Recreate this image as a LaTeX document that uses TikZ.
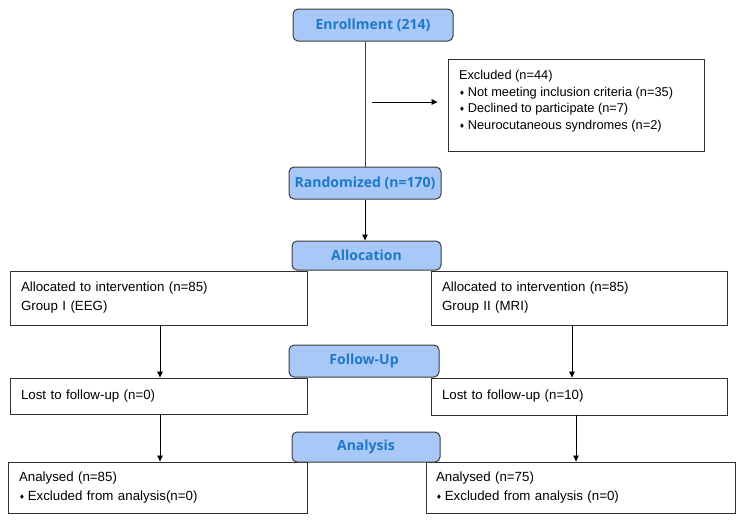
\documentclass[tikz,border=0pt]{standalone}
\usepackage{fontspec}
\setmainfont{Liberation Sans}
\newfontfamily\hdrfont{Open Sans}
\newfontfamily\symfont{DejaVu Sans}
\usetikzlibrary{arrows.meta}
\definecolor{hdrfill}{HTML}{A8C8F8}
\definecolor{hdrline}{HTML}{3C3C3C}
\definecolor{hdrtext}{HTML}{1E78C8}
\definecolor{boxline}{HTML}{303030}
\definecolor{conn}{HTML}{404040}
\newcommand\mybullet{{\symfont\fontsize{6.5}{6.5}\selectfont\raisebox{1pt}{♦}}\hspace{3pt}}
\begin{document}
\begin{tikzpicture}[x=1pt,y=-1pt,
  hdr/.style={draw=hdrline, fill=hdrfill, rounded corners=5pt, line width=1pt,
    text=hdrtext, font=\hdrfont\bfseries\fontsize{14}{16}\selectfont, inner sep=0pt},
  plain/.style={draw=boxline, fill=white, line width=0.9pt, inner xsep=11pt, inner ysep=0pt,
    align=left, font=\fontsize{13.3}{19}\selectfont},
  arr/.style={draw=black, line width=0.8pt, -{Triangle[length=6pt,width=5.5pt]}},
  ln/.style={draw=conn, line width=0.8pt}]
\useasboundingbox (0,0) rectangle (743,522);
\fill[white] (0,0) rectangle (743,522);

% header boxes
\node[hdr, minimum width=160pt, minimum height=32pt] (enr) at (373,25) {Enrollment (214)};
\node[hdr, minimum width=152pt, minimum height=32pt] (rand) at (365,183) {Randomized (n=170)};

% excluded
\node[plain, minimum width=256pt, minimum height=92pt] (excl) at (576,105)
  {\parbox[c][92pt][t]{234pt}{\fontsize{12.8}{16.8}\selectfont\vspace*{11pt}Excluded (n=44)\\
   \mybullet Not meeting inclusion criteria (n=35)\\
   \mybullet Declined to participate (n=7)\\
   \mybullet Neurocutaneous syndromes (n=2)}};

% allocated
\node[plain, text width=275pt, minimum height=54pt] (a1) at (158.5,298)
  {Allocated to intervention (n=85)\\Group I (EEG)};
\node[plain, text width=274pt, minimum height=54pt] (a2) at (579,298)
  {Allocated to intervention (n=85)\\Group II (MRI)};
\node[hdr, minimum width=149pt, minimum height=29pt] (alloc) at (366.5,255.5) {Allocation};

% lost
\node[plain, text width=275pt, minimum height=36pt] (l1) at (158.5,396)
  {Lost to follow-up (n=0)};
\node[plain, text width=274pt, minimum height=37pt] (l2) at (579,396.5)
  {Lost to follow-up (n=10)};
\node[hdr, minimum width=150pt, minimum height=32pt] (fol) at (364,361) {Follow-Up};

% analysed
\node[plain, text width=277pt, minimum height=51pt] (n1) at (157.5,487.5)
  {Analysed (n=85)\\\mybullet Excluded from analysis(n=0)};
\node[plain, inner xsep=10pt, text width=289pt, minimum height=51pt] (n2) at (580.5,487.5)
  {Analysed (n=75)\\\mybullet Excluded from analysis (n=0)};
\node[hdr, minimum width=148pt, minimum height=30pt] (anal) at (366,447) {Analysis};

% connectors
\draw[ln] (rand.north |- enr.south) -- (rand.north);
\coordinate (exA) at (372,102);
\draw[arr] (exA) -- ([xshift=-10pt]excl.west |- exA);
\draw[arr] (rand.south) -- (rand.south |- alloc.north);
\draw[arr] ([xshift=1.5pt]a1.south) -- ([xshift=1.5pt]a1.south |- l1.north);
\draw[arr] ([xshift=-7pt]a2.south) -- ([xshift=-7pt]a2.south |- l2.north);
\draw[arr] ([xshift=1.5pt]l1.south) -- ([xshift=1.5pt]l1.south |- n1.north);
\draw[arr] ([xshift=-3pt]l2.south) -- ([xshift=-3pt]l2.south |- n2.north);
\end{tikzpicture}
\end{document}
